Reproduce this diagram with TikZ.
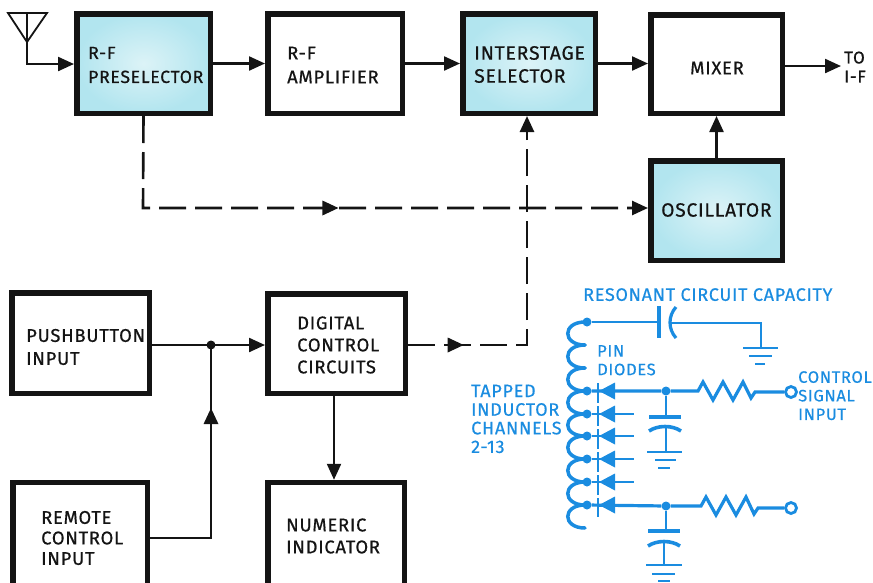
\documentclass[tikz,border=0pt]{standalone}
\usepackage{fontspec}
\setmainfont{Fira Sans}
\newfontfamily\labelfont[LetterSpace=4,FakeBold=0.6]{Fira Sans}
\newfontfamily\bluefont[LetterSpace=4,FakeBold=0.5]{Fira Sans}
\usetikzlibrary{arrows.meta,decorations.markings}
\definecolor{cir}{HTML}{1A8CE0}
\definecolor{tintin}{HTML}{DCF3F7}
\definecolor{tintout}{HTML}{B2E5EF}
\definecolor{ink}{HTML}{141414}
\tikzset{
  block/.style={draw=ink,line width=5.5pt,fill=white,inner sep=0pt},
  tinted/.style={block,inner color=tintin,outer color=tintout},
  blocklabel/.style={text=ink,align=left,inner sep=0pt,anchor=west,
    font=\labelfont\fontsize{18.4}{#1}\selectfont},
  blocklabel/.default=22,
  bigtip/.style={-{Triangle[length=16pt,width=14pt]}},
  flow/.style={draw=ink,line width=2.3pt,bigtip},
  plainflow/.style={draw=ink,line width=2.3pt},
  dashflow/.style={draw=ink,line width=2.6pt,dash pattern=on 27pt off 9pt,bigtip},
  midtip/.style={postaction={decorate,decoration={markings,
    mark=at position #1 with {\fill[ink] (8pt,0pt) -- (-8pt,7.5pt) -- (-8pt,-7.5pt) -- cycle;}}}},
  wire/.style={draw=cir,line width=2.9pt},
  bluetext/.style={text=cir,align=left,inner sep=0pt,anchor=north west,
    font=\bluefont\fontsize{#1}{18.6}\selectfont},
  bluetext/.default=18,
  tdot/.style={circle,fill=cir,inner sep=0pt,minimum size=9pt},
  opencircle/.style={circle,draw=cir,line width=2.8pt,fill=white,inner sep=0pt,minimum size=11pt},
  diode/.style={fill=cir,draw=none},
}
\begin{document}
\begin{tikzpicture}[x=1pt,y=-1pt]
\useasboundingbox (0,0) rectangle (873,582);
% blocks
\node[tinted,minimum width=133.5pt,minimum height=99.5pt] (pre) at (143.5,63.5) {};
\node[block,minimum width=134.5pt,minimum height=99.5pt] (amp) at (335,63.5) {};
\node[tinted,minimum width=132.5pt,minimum height=99.5pt] (ist) at (529,63.5) {};
\node[block,minimum width=131.5pt,minimum height=98.5pt] (mix) at (716.5,64) {};
\node[tinted,minimum width=131.5pt,minimum height=99.5pt] (osc) at (716.5,210.5) {};
\node[block,minimum width=137.5pt,minimum height=100.5pt] (push) at (80.5,343) {};
\node[block,minimum width=137.5pt,minimum height=99.5pt] (dig) at (336.5,343.5) {};
\node[block,minimum width=134.5pt,minimum height=105pt] (rem) at (80,535) {};
\node[block,minimum width=136.5pt,minimum height=105pt] (num) at (336,535) {};
% block labels
\node[blocklabel=24,font=\labelfont\fontsize{17.6}{24}\selectfont] (prel) at (88,65) {R-F\\PRESELECTOR};
\node[blocklabel=24] (ampl) at (287,65) {R-F\\AMPLIFIER};
\node[blocklabel=23,font=\labelfont\fontsize{19.4}{23}\selectfont] (istl) at (474,64.5) {INTERSTAGE\\SELECTOR};
\node[blocklabel] (mixl) at (690,68) {MIXER};
\node[blocklabel,font=\labelfont\fontsize{19.2}{22}\selectfont] (oscl) at (661,210) {OSCILLATOR};
\node[blocklabel=23] (pushl) at (26,347) {PUSHBUTTON\\INPUT};
\node[blocklabel=22] (digl) at (297,345) {DIGITAL\\CONTROL\\CIRCUITS};
\node[blocklabel=20.5] (reml) at (41,538) {REMOTE\\CONTROL\\INPUT};
\node[blocklabel=22] (numl) at (286,536) {NUMERIC\\INDICATOR};
% antenna
\coordinate (anttip) at (27,42);
\coordinate (anttop) at (27,13);
\draw[draw=ink,line width=1.8pt,line join=miter] (8,13) -- (47,13) -- (anttip) -- cycle;
\draw[plainflow,line width=1.8pt] (anttop) -- (anttip);
\coordinate (antcorner) at (27,64);
\draw[flow] (anttip) -- (antcorner) -- (pre.west |- antcorner);
% top chain
\draw[flow] (pre.east) -- (amp.west);
\draw[flow] (amp.east) -- (ist.west);
\draw[flow] (ist.east) -- (mix.west |- ist.east);
\coordinate (toif) at (841,66);
\draw[flow] (mix.east |- toif) -- (toif);
\node[text=ink,align=left,inner sep=0pt,anchor=west,font=\labelfont\fontsize{17}{19}\selectfont] (toiftext) at (844,67) {TO\\I-F};
\draw[flow] (osc.north) -- (osc.north |- mix.south);
% dashed
\coordinate (preturn) at (143,208);
\draw[dashflow,midtip=0.468] (pre.south) -- (preturn) -- (osc.west |- preturn);
\coordinate (digturn) at (527,345);
\draw[dashflow,midtip=0.137] (dig.east |- digturn) -- (digturn) -- (ist.south -| digturn);
% lower solid
\coordinate (sum) at (211,345);
\coordinate (remturn) at (211,538);
\draw[flow] (push.east |- sum) -- (dig.west |- sum);
\draw[plainflow,midtip=0.72] (rem.east |- remturn) -- (remturn) -- (sum);
\fill[ink] (sum) circle (4.5pt);
\coordinate (dn) at (334,0);
\draw[flow] (dig.south -| dn) -- (num.north -| dn);
% circuit labels
\node[bluetext] (rcc) at (583,288) {RESONANT CIRCUIT CAPACITY};
\node[bluetext=16.5] (pin) at (597,345) {PIN\\DIODES};
\node[bluetext] (tap) at (471,384.5) {TAPPED\\INDUCTOR\\CHANNELS\\2-13};
\node[bluetext=16.5] (ctl) at (798,371) {CONTROL\\SIGNAL\\INPUT};
% inductor
\foreach \a/\b in {322/345,345/368,368/391,391/414,414/436,436/459,459/482,482/505,505/528}
  \draw[wire,line width=3.5pt,line cap=round] (585,\a) .. controls (562,\a) and (562,\b) .. (585,\b);
% top branch with resonant capacitor
\node[tdot] (ttop) at (587,322) {};
\coordinate (plateA) at (659,322);
\coordinate (plateB) at (671,323);
\coordinate (gndA) at (761,323);
\coordinate (gndB) at (761,348);
\draw[wire] (ttop) -- (plateA);
\draw[wire,line width=3.2pt] (659,306) -- (659,338);
\draw[wire,line width=3.2pt] (676,307) .. controls (668,316) and (668,329) .. (676,338);
\draw[wire] (plateB) -- (gndA) -- (gndB);
\draw[wire] (743,348) -- (778,348);
\draw[wire] (749,356) -- (772,356);
\draw[wire] (755,364) -- (765,364);
% diode bar
\draw[draw=cir,line width=1.6pt,dash pattern=on 20pt off 3pt] (598,383) -- (598,517);
% taps
\foreach \y/\n in {391/a,414/b,436/c,459/d,482/e,505/f}{
  \node[tdot] (tap\n) at (587,\y) {};
  \draw[wire] (tap\n) -- (600,\y);
  \fill[diode] (599,\y) -- (615,\y-8.5) -- (615,\y+8.5) -- cycle;
}
\foreach \y/\n in {414/b,436/c,459/d,482/e}
  \draw[wire] (tap\n) -- (634,\y);
% upper control
\node[tdot] (j1) at (666,391) {};
\node[opencircle] (in1) at (791,392) {};
\draw[wire,line width=3.2pt] (tapa) -- (j1) -- (698,391) -- (703,382) -- (713,400) -- (723,382) -- (733,400) -- (743,382) -- (751,398) -- (755,392) -- (in1);
\draw[wire] (j1) -- (666,417);
\draw[wire,line width=3.6pt] (649,417) -- (681,417);
\draw[wire,line width=3.6pt] (649,431) .. controls (658,425) and (672,425) .. (681,431);
\draw[wire] (666,427) -- (666,452);
\draw[wire] (647,452) -- (682,452);
\draw[wire] (655,460) -- (676,460);
\draw[wire] (658,468) -- (670,468);
% lower control
\node[tdot] (j2) at (666,506) {};
\node[opencircle] (in2) at (791,508) {};
\draw[wire,line width=3.2pt] (tapf) -- (j2) -- (701,506) -- (706,497) -- (716,515) -- (726,497) -- (736,515) -- (746,497) -- (754,514) -- (758,508) -- (in2);
\draw[wire] (j2) -- (666,531);
\draw[wire,line width=3.6pt] (648,531) -- (680,531);
\draw[wire,line width=3.6pt] (648,546) .. controls (657,540) and (671,540) .. (680,546);
\draw[wire] (664,541) -- (664,565);
\draw[wire] (646,565) -- (682,565);
\draw[wire] (652,574) -- (675,574);
\draw[wire] (658,581) -- (670,581);
\end{tikzpicture}
\end{document}
